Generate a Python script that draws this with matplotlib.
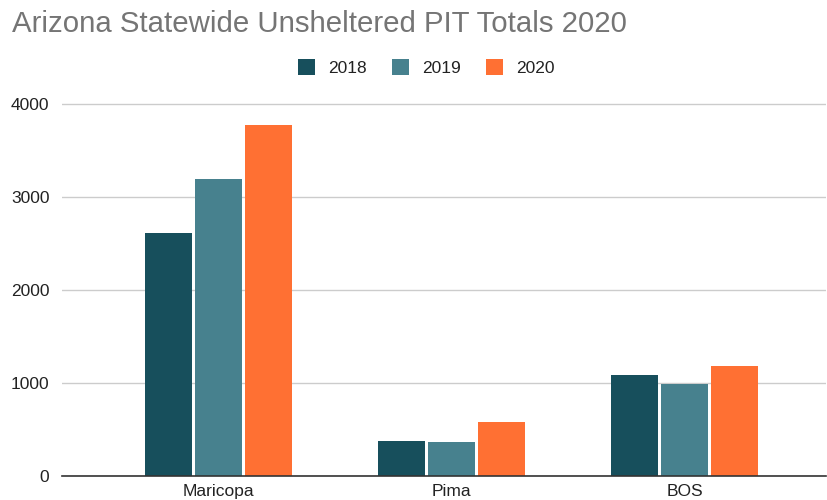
import matplotlib
matplotlib.use("Agg")
from matplotlib import pyplot as plt
import numpy as np

plt.rcParams['font.family'] = ['Liberation Sans', 'DejaVu Sans']

categories = ['Maricopa', 'Pima', 'BOS']
years = ['2018', '2019', '2020']
totals_2018 = [2613, 376, 1083]
totals_2019 = [3187, 359, 989]
totals_2020 = [3771, 581, 1180]
colors = ['#174f5c', '#47818e', '#ff7033']
y_ticks = [0, 1000, 2000, 3000, 4000]

fig = plt.figure(figsize=(8.28, 5.0), dpi=100)
ax = fig.add_axes([62 / 828, 1 - 475.7 / 500, 764 / 828, (475.7 - 102) / 500])

x = np.arange(len(categories))
width = 0.2
step = 0.215
series = [totals_2018, totals_2019, totals_2020]
for i, (vals, c, lab) in enumerate(zip(series, colors, years)):
    ax.bar(x + (i - 1) * step, vals, width, color=c, label=lab, zorder=3)

ax.set_xlim(-0.672, 2.607)
ax.set_ylim(0, 4000 * (475.7 - 102) / (475.7 - 103.7))
ax.set_yticks(y_ticks)
ax.set_yticklabels([str(t) for t in y_ticks])
ax.set_xticks(x)
ax.set_xticklabels(categories)
ax.tick_params(axis='both', length=0, labelsize=12.5, colors='#222222')
ax.tick_params(axis='y', pad=9)
ax.tick_params(axis='x', pad=6)
ax.yaxis.grid(True, color='#cccccc', linewidth=1, zorder=0)
for s in ['top', 'right', 'left']:
    ax.spines[s].set_visible(False)
ax.spines['bottom'].set_color('#333333')
ax.spines['bottom'].set_linewidth(1.2)
ax.spines['bottom'].set_zorder(4)

fig.text(12 / 828, 1 - 24 / 500, 'Arizona Statewide Unsheltered PIT Totals 2020',
         fontsize=21.2, color='#757575', ha='left', va='center')

leg = fig.legend(loc='center', bbox_to_anchor=(426.5 / 828, 1 - 67.5 / 500), ncol=3,
                 frameon=False, fontsize=12.5, handlelength=0.98, handleheight=0.98,
                 columnspacing=1.45, handletextpad=0.75, borderpad=0)
for t in leg.get_texts():
    t.set_color('#222222')

fig.savefig('out.png', dpi=100)
